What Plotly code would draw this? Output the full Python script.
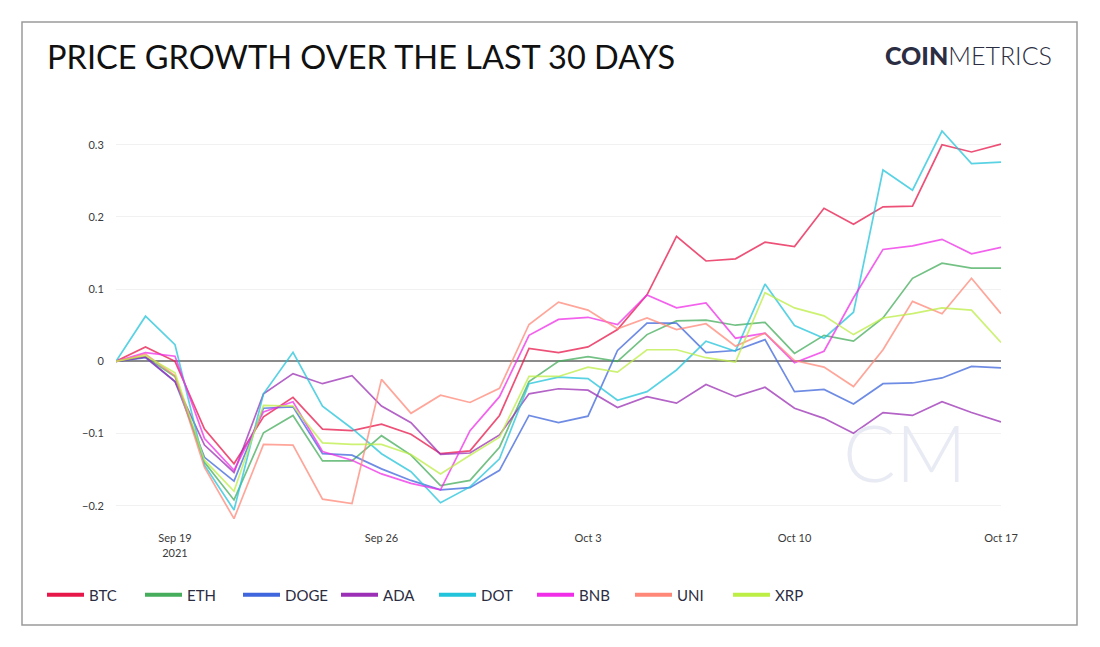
import pandas as pd
import plotly.graph_objects as go

dates = pd.date_range("2021-09-17", "2021-10-17", freq="D")

btc = [0, 0.020, 0.000, -0.094, -0.142, -0.077, -0.050, -0.094, -0.096, -0.087, -0.101, -0.128, -0.124, -0.075,
       0.018, 0.012, 0.020, 0.044, 0.092, 0.173, 0.139, 0.142, 0.165, 0.159, 0.212, 0.190, 0.214, 0.215, 0.300,
       0.290, 0.301]
eth = [0, 0.006, -0.021, -0.140, -0.192, -0.099, -0.075, -0.138, -0.138, -0.103, -0.130, -0.172, -0.165, -0.119,
       -0.028, 0.000, 0.0065, 0.000, 0.037, 0.056, 0.057, 0.050, 0.054, 0.011, 0.036, 0.028, 0.060, 0.115, 0.136,
       0.129, 0.129]
doge = [0, 0.005, -0.028, -0.133, -0.166, -0.065, -0.063, -0.128, -0.130, -0.149, -0.165, -0.178, -0.175, -0.151,
        -0.075, -0.085, -0.076, 0.015, 0.053, 0.053, 0.012, 0.015, 0.030, -0.042, -0.039, -0.059, -0.031, -0.030,
        -0.023, -0.007, -0.009]
ada = [0, 0.006, -0.028, -0.116, -0.154, -0.045, -0.017, -0.031, -0.020, -0.062, -0.085, -0.129, -0.127, -0.102,
       -0.045, -0.038, -0.040, -0.064, -0.049, -0.058, -0.032, -0.049, -0.036, -0.065, -0.079, -0.0995, -0.071,
       -0.075, -0.056, -0.071, -0.084]
dot = [0, 0.0625, 0.023, -0.144, -0.206, -0.045, 0.0125, -0.062, -0.093, -0.128, -0.153, -0.196, -0.174, -0.135,
       -0.031, -0.022, -0.024, -0.054, -0.042, -0.012, 0.028, 0.014, 0.107, 0.0495, 0.032, 0.068, 0.265, 0.237,
       0.319, 0.274, 0.276]
bnb = [0, 0.012, 0.007, -0.107, -0.151, -0.070, -0.056, -0.125, -0.137, -0.156, -0.169, -0.178, -0.096, -0.049,
       0.036, 0.058, 0.061, 0.051, 0.092, 0.074, 0.081, 0.032, 0.039, -0.002, 0.014, 0.088, 0.155, 0.160, 0.169,
       0.149, 0.158]
uni = [0, 0.010, -0.020, -0.147, -0.218, -0.115, -0.116, -0.191, -0.197, -0.025, -0.072, -0.047, -0.057, -0.0375,
       0.051, 0.082, 0.071, 0.045, 0.060, 0.044, 0.052, 0.021, 0.039, 0.001, -0.008, -0.035, 0.016, 0.083, 0.066,
       0.115, 0.066]
xrp = [0, 0.008, -0.016, -0.137, -0.180, -0.061, -0.062, -0.113, -0.115, -0.115, -0.129, -0.156, -0.130, -0.105,
       -0.021, -0.021, -0.008, -0.015, 0.016, 0.016, 0.005, -0.001, 0.095, 0.074, 0.063, 0.037, 0.060, 0.066, 0.074,
       0.071, 0.026]

names = ["BTC", "ETH", "DOGE", "ADA", "DOT", "BNB", "UNI", "XRP"]
series = [btc, eth, doge, ada, dot, bnb, uni, xrp]
colors = ["#e8174a", "#45ad5c", "#3f66dc", "#9b2fb5", "#22c4db", "#f02ee8", "#ff8878", "#bdee45"]

fig = go.Figure()
for n, s, c in zip(names, series, colors):
    fig.add_trace(go.Scatter(x=dates, y=s, name=n, mode="lines", legendgroup=n, showlegend=False,
                             line=dict(color=c, width=1.7), opacity=0.75))
# legend entries with a thicker, fully opaque swatch (no data drawn)
for n, c in zip(names, colors):
    fig.add_trace(go.Scatter(x=[None], y=[None], name=n, mode="lines", legendgroup=n, showlegend=True,
                             line=dict(color=c, width=4)))

OFF = 8  # page body margin
W, H = 1100, 647
plot_left, plot_right, plot_top, plot_bottom = 116 - OFF, 1001 - OFF, 100 - OFF, 522 - OFF
L, R, T, B = plot_left, W - plot_right, plot_top, H - plot_bottom
pw, ph = plot_right - plot_left, plot_bottom - plot_top

def px_x(p):
    return (p - OFF - plot_left) / pw

def px_y(p):
    return (plot_bottom - (p - OFF)) / ph

fig.update_layout(
    width=W, height=H,
    margin=dict(l=L, r=R, t=T, b=B),
    paper_bgcolor="white", plot_bgcolor="white",
    font=dict(family="Lato, 'Open Sans', sans-serif", color="#3a3a3a", size=11),
    title=dict(text="PRICE GROWTH OVER THE LAST 30 DAYS", x=(47 - OFF) / W, xref="container", xanchor="left",
               y=1 - (58 - OFF) / H, yref="container", yanchor="middle",
               font=dict(family="Lato", size=32.5, color="#111")),
    xaxis=dict(showgrid=False, zeroline=False, showline=False, ticks="outside", ticklen=6,
               tickcolor="rgba(0,0,0,0)", dtick=7 * 86400000, tick0="2021-09-19",
               tickfont=dict(size=11, color="#3a3a3a"), range=[dates[0], dates[-1]]),
    yaxis=dict(range=[-0.2226, 0.362], dtick=0.1, showgrid=True, gridcolor="#f1f1f1", gridwidth=1,
               zeroline=True, zerolinecolor="#8a8a8a", zerolinewidth=1.5, showline=False,
               ticks="outside", ticklen=9, tickcolor="rgba(0,0,0,0)", tickfont=dict(size=11, color="#3a3a3a")),
    legend=dict(orientation="h", x=px_x(42), y=px_y(595), xanchor="left", yanchor="middle",
                font=dict(family="Lato", size=15, color="#2b2d42"), entrywidth=46, entrywidthmode="pixels",
                itemwidth=37, bgcolor="rgba(0,0,0,0)"),
    showlegend=True,
)

fig.add_shape(type="rect", xref="paper", yref="paper",
              x0=px_x(22), x1=px_x(1077), y0=px_y(625), y1=px_y(22),
              line=dict(color="#9a9a9a", width=1.5), fillcolor="rgba(0,0,0,0)", layer="below")

fig.add_annotation(text="<span style='font-weight:900'>COIN</span><span style='font-weight:300'>METRICS</span>",
                   xref="paper", yref="paper", x=px_x(1054), y=px_y(55), xanchor="right", yanchor="middle",
                   showarrow=False, font=dict(family="Lato", size=25, color="#2b2d42"))

fig.add_annotation(text="<span style='font-weight:300'>CM</span>", xref="paper", yref="paper",
                   x=px_x(905), y=px_y(452), xanchor="center", yanchor="middle", showarrow=False,
                   font=dict(family="Lato", size=78, color="#e9ebf4"))

fig.write_html("out.html")
